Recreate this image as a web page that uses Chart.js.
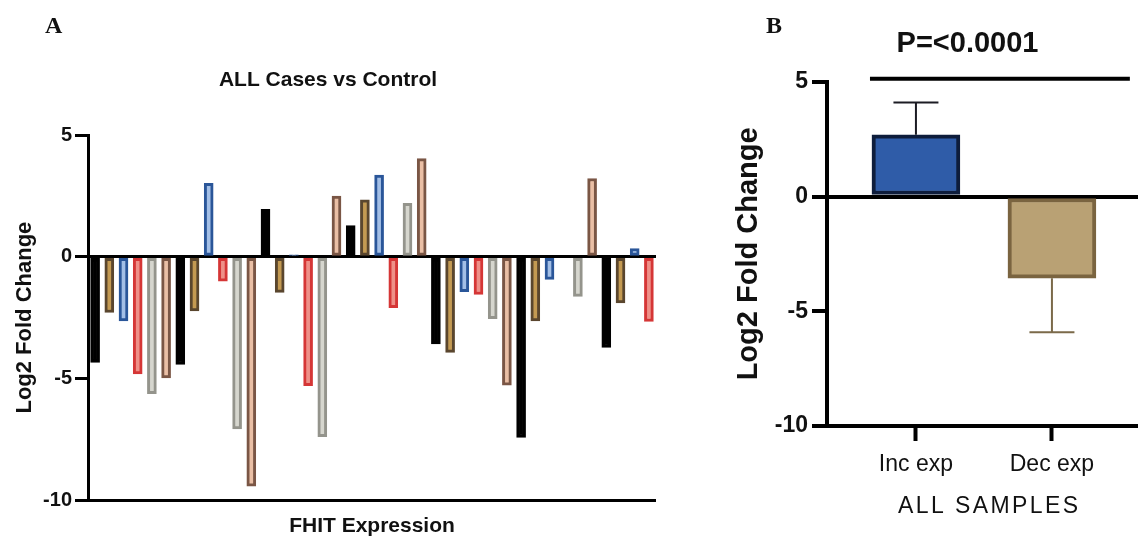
<!DOCTYPE html>
<html>
<head>
<meta charset="utf-8">
<script src="https://cdn.jsdelivr.net/npm/chart.js@4.4.1/dist/chart.umd.min.js"></script>
<style>
  html, body { margin: 0; padding: 0; background: #fff; width: 1138px; height: 539px; overflow: hidden; }
  #wrap { position: relative; width: 1138px; height: 539px; overflow: hidden; }
  canvas { position: absolute; top: 0; }
  #cA { left: 0; }
  #cB { left: 720px; }
  .panel { position: absolute; font-family: "Liberation Serif", "Times New Roman", serif; font-weight: bold; font-size: 24px; line-height: 1; color: #111; }
</style>
</head>
<body>
<div id="wrap">
  <canvas id="cA" width="656" height="539"></canvas>
  <canvas id="cB" width="522" height="539"></canvas>
  <div class="panel" style="left:45px; top:13px;">A</div>
  <div class="panel" style="left:766px; top:13px;">B</div>
</div>
<script>
// ---------- Panel A data ----------
const sampleLabels = ["S1","S2","S3","S4","S5","S6","S7","S8","S9","S10",
                      "S11","S12","S13","S14","S15","S16","S17","S18","S19","S20",
                      "S21","S22","S23","S24","S25","S26","S27","S28","S29","S30",
                      "S31","S32","S33","S34","S35","S36","S37","S38","S39","S40"];
const foldChange = [-4.34, -2.29, -2.64, -4.82, -5.63, -4.98, -4.43, -2.23, 3.02, -1.00,
                    -7.08, -9.43, 1.95, -1.46, 0.08, -5.30, -7.40, 2.50, 1.28, 2.34,
                    3.36, -2.09, 2.20, 4.04, -3.58, -3.93, -1.43, -1.55, -2.54, -5.28,
                    -7.43, -2.64, -0.93, 0.00, -1.63, 3.22, -3.73, -1.90, 0.34, -2.66];
const yTicksA = [-10, -5, 0, 5];

// ---------- Panel B data ----------
const groupLabels = ["Inc exp", "Dec exp"];
const groupMeans = [2.69, -3.56];
const groupErrors = [1.41, 2.35];
const pValueText = "P=<0.0001";
const xTitleB = "ALL SAMPLES";
const yTicksB = [-10, -5, 0, 5];

// ---------- styles ----------
const edgeColors = ["#000000", "#5a462e", "#2a5699", "#d53636", "#94948c", "#7a5645"];
const fillColors = ["#000000", "#c49a52", "#a3bfe6", "#ee9088", "#d6d6ce", "#eabfa5"];
const FONT = "'Liberation Sans', Arial, Helvetica, sans-serif";

const chartA = new Chart(document.getElementById('cA'), {
  type: 'bar',
  data: {
    labels: sampleLabels,
    datasets: [{
      data: foldChange,
      backgroundColor: ctx => fillColors[ctx.dataIndex % 6],
      borderColor: ctx => edgeColors[ctx.dataIndex % 6],
      borderWidth: 3,
      borderSkipped: false,
      barThickness: 9
    }]
  },
  options: {
    responsive: false,
    animation: false,
    layout: { padding: { left: 0, right: 0, top: 0, bottom: 0 } },
    plugins: {
      legend: { display: false },
      tooltip: { enabled: false },
      title: {
        display: true,
        text: 'ALL Cases vs Control',
        color: '#111',
        font: { family: FONT, size: 21, weight: 'bold' },
        padding: { top: 68, bottom: 42 }
      }
    },
    scales: {
      x: {
        type: 'category',
        offset: true,
        grid: { display: false },
        border: { display: true, color: '#000', width: 3 },
        ticks: { display: false },
        title: {
          display: true,
          text: 'FHIT Expression',
          color: '#111',
          font: { family: FONT, size: 21, weight: 'bold' },
          padding: { top: 0, bottom: 0 }
        },
        afterFit: s => { s.height = 39; }
      },
      y: {
        min: -10, max: 5,
        afterBuildTicks: s => { s.ticks = yTicksA.map(v => ({ value: v })); },
        ticks: {
          color: '#111',
          font: { family: FONT, size: 20, weight: 'bold' },
          padding: 3
        },
        grid: {
          drawOnChartArea: true,
          color: ctx => (ctx.tick && ctx.tick.value === 0) ? '#000' : 'rgba(0,0,0,0)',
          lineWidth: 3,
          drawTicks: true,
          tickColor: '#000',
          tickWidth: 3,
          tickLength: 13
        },
        border: { display: true, color: '#000', width: 3 },
        title: {
          display: true,
          text: 'Log2 Fold Change',
          color: '#111',
          font: { family: FONT, size: 22, weight: 'bold' },
          padding: { top: 12, bottom: 0 }
        },
        afterFit: s => { s.width = 88; }
      }
    }
  }
});

// ---------- Panel B ----------
const errorBarPlugin = {
  id: 'errorBars',
  afterDatasetsDraw(chart) {
    const ctx = chart.ctx;
    const meta = chart.getDatasetMeta(0);
    const ys = chart.scales.y;
    const errColors = ['#1c1c24', '#7b6a4a'];
    meta.data.forEach((bar, i) => {
      const m = groupMeans[i];
      const e = groupErrors[i];
      const end = m >= 0 ? m + e : m - e;
      const y0 = ys.getPixelForValue(m);
      const y1 = ys.getPixelForValue(end);
      ctx.save();
      ctx.strokeStyle = errColors[i];
      ctx.lineWidth = 2;
      ctx.beginPath();
      ctx.moveTo(bar.x, y0);
      ctx.lineTo(bar.x, y1);
      ctx.moveTo(bar.x - 22.5, y1);
      ctx.lineTo(bar.x + 22.5, y1);
      ctx.stroke();
      ctx.restore();
    });
  }
};
const sigLinePlugin = {
  id: 'sigLine',
  afterDatasetsDraw(chart) {
    const ctx = chart.ctx;
    const xs = chart.scales.x, ys = chart.scales.y;
    const yPix = ys.getPixelForValue(5.13);
    ctx.save();
    ctx.strokeStyle = '#000';
    ctx.lineWidth = 4;
    ctx.beginPath();
    ctx.moveTo(xs.getPixelForValue(-0.338), yPix);
    ctx.lineTo(xs.getPixelForValue(1.573), yPix);
    ctx.stroke();
    ctx.restore();
  }
};
// x-axis title drawn with letter spacing (wide-tracked caps as in the figure)
const xTitlePlugin = {
  id: 'xTitleSpaced',
  afterDraw(chart) {
    const ctx = chart.ctx;
    const xs = chart.scales.x;
    const cx = xs.getPixelForValue(0.53);
    ctx.save();
    ctx.font = "23px " + FONT;
    ctx.fillStyle = '#111';
    ctx.textAlign = 'center';
    ctx.textBaseline = 'middle';
    if ('letterSpacing' in ctx) ctx.letterSpacing = '2.4px';
    ctx.fillText(xTitleB, cx + 1.2, 507);
    ctx.restore();
  }
};

const chartB = new Chart(document.getElementById('cB'), {
  type: 'bar',
  data: {
    datasets: [{
      data: groupMeans.map((m, i) => ({ x: i, y: m })),
      backgroundColor: ['#2f5ca8', '#b9a174'],
      borderColor: ['#0e1d3c', '#7a6440'],
      borderWidth: 4,
      borderSkipped: false,
      barThickness: 88
    }]
  },
  plugins: [errorBarPlugin, sigLinePlugin, xTitlePlugin],
  options: {
    responsive: false,
    animation: false,
    layout: { padding: { left: 0, right: 27, top: 0, bottom: 0 } },
    plugins: {
      legend: { display: false },
      tooltip: { enabled: false },
      title: {
        display: true,
        text: pValueText,
        color: '#111',
        font: { family: FONT, size: 29, weight: 'bold' },
        padding: { top: 27, bottom: 20 }
      }
    },
    scales: {
      x: {
        type: 'linear',
        offset: false,
        min: -0.654, max: 2.199,
        afterBuildTicks: s => { s.ticks = groupLabels.map((l, i) => ({ value: i })); },
        ticks: {
          color: '#111',
          font: { family: FONT, size: 23 },
          padding: 10,
          callback: (v, i) => groupLabels[i]
        },
        grid: {
          offset: false,
          drawOnChartArea: false,
          drawTicks: true,
          tickColor: '#000',
          tickWidth: 4,
          tickLength: 15
        },
        border: { display: true, color: '#000', width: 4 },
        title: { display: false },
        afterFit: s => { s.height = 113; }
      },
      y: {
        min: -10, max: 5,
        afterBuildTicks: s => { s.ticks = yTicksB.map(v => ({ value: v })); },
        ticks: {
          color: '#111',
          font: { family: FONT, size: 23, weight: 'bold' },
          padding: 4
        },
        grid: {
          drawOnChartArea: true,
          color: ctx => (ctx.tick && ctx.tick.value === 0) ? '#000' : 'rgba(0,0,0,0)',
          lineWidth: 4,
          drawTicks: true,
          tickColor: '#000',
          tickWidth: 4,
          tickLength: 15
        },
        border: { display: true, color: '#000', width: 4 },
        title: {
          display: true,
          text: 'Log2 Fold Change',
          color: '#111',
          font: { family: FONT, size: 29, weight: 'bold' },
          padding: { top: 12, bottom: 0 }
        },
        afterFit: s => { s.width = 107; }
      }
    }
  }
});
</script>
</body>
</html>
